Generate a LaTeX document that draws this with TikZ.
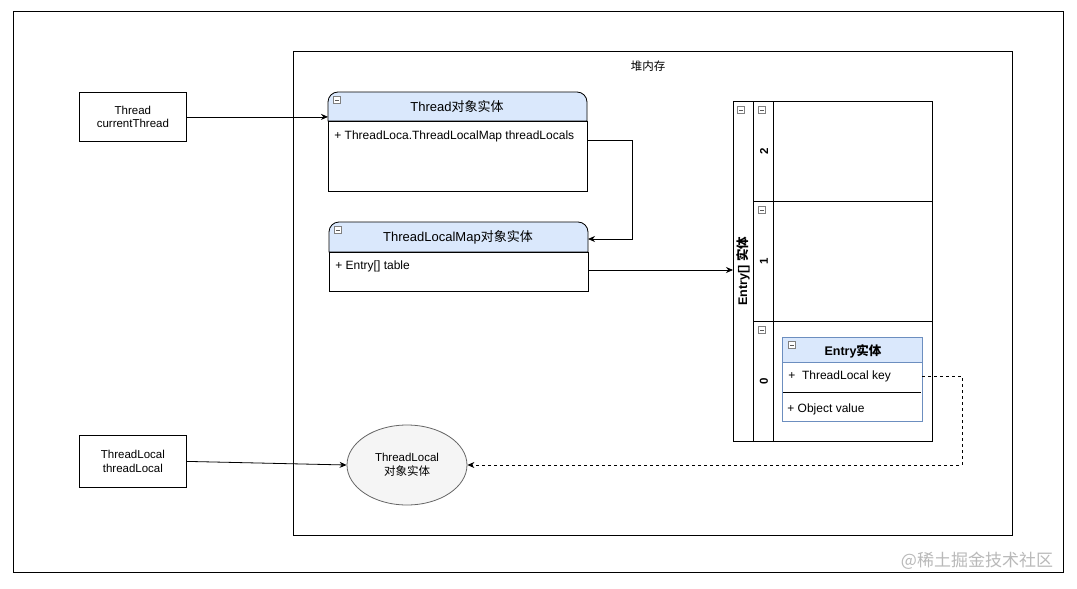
\documentclass[tikz,border=0pt]{standalone}
\usepackage{fontspec}
\setmainfont{Liberation Sans}
\newfontfamily\cjk{Noto Sans CJK SC}
\usetikzlibrary{arrows.meta,shapes.geometric}
\definecolor{hdr}{HTML}{DAE8FC}
\definecolor{hdrline}{HTML}{6C8EBF}
\definecolor{ellfill}{HTML}{F5F5F5}
\definecolor{ellline}{HTML}{666666}
\tikzset{
  box/.style={draw, anchor=north west, inner sep=0pt, align=center},
  anc/.style={anchor=north west, inner sep=0pt},
  field/.style={anchor=west, inner sep=0pt, font=\fontsize{12}{14}\selectfont},
  ttl/.style={font=\fontsize{13}{15}\selectfont},
  conn/.style={-{Stealth[length=7pt,width=6pt]}},
  minus/.pic={\draw[gray, fill=white, line width=0.6pt] (-3.5,-3.5) rectangle (3.5,3.5); \draw[gray!70!black, line width=0.6pt] (-2,0) -- (2,0);}
}
\begin{document}
\begin{tikzpicture}[x=1pt,y=-1pt, line width=0.8pt, font=\fontsize{11.5}{13.5}\selectfont]
\useasboundingbox (0,0) rectangle (1077,589);
\fill[white] (0,0) rectangle (1077,589);
% frames
\node[box, minimum width=1050pt, minimum height=561pt] (outer) at (13,11) {};
\node[box, minimum width=719pt, minimum height=484pt] (heap) at (293,51) {};
\node (heaplbl) at (648,66) {\cjk 堆内存};
% left boxes
\node[box, minimum width=107pt, minimum height=49pt] (thread) at (79,92) {Thread\\currentThread};
\node[box, minimum width=107pt, minimum height=52pt] (tlbox) at (79,435) {ThreadLocal\\threadLocal};
% Thread object
\draw[fill=hdr] (328,121) [rounded corners=10pt]-- (328,92) -- (587,92) [sharp corners]-- (587,121) -- cycle;
\draw (328,121) rectangle (587,191);
\node[anc, minimum width=259pt, minimum height=99pt] (thr) at (328,92) {};
\node[ttl] (thrT) at (457,107) {Thread{\cjk 对象实体}};
\node[field] (thrF) at (334,136) {+ ThreadLoca.ThreadLocalMap threadLocals};
\pic at (337,100) {minus};
% ThreadLocalMap object
\draw[fill=hdr] (329,252) [rounded corners=10pt]-- (329,222) -- (588,222) [sharp corners]-- (588,252) -- cycle;
\draw (329,252) rectangle (588,291);
\node[anc, minimum width=259pt, minimum height=69pt] (tlm) at (329,222) {};
\node[ttl] (tlmT) at (458,237) {ThreadLocalMap{\cjk 对象实体}};
\node[field] (tlmF) at (335,266) {+ Entry[] table};
\pic at (338,230) {minus};
% Entry[] array
\node[box, minimum width=199pt, minimum height=340pt] (arr) at (733,101) {};
\draw (753,101) -- (753,441);
\draw (773,101) -- (773,441);
\draw (753,201) -- (932,201);
\draw (753,321) -- (932,321);
\node[rotate=90, font=\fontsize{12.5}{14}\selectfont\bfseries] (arrlbl) at (743,271) {Entry[] {\cjk 实体}};
\node[rotate=90, font=\fontsize{11.5}{13}\selectfont\bfseries] (r2) at (764,151) {2};
\node[rotate=90, font=\fontsize{11.5}{13}\selectfont\bfseries] (r1) at (764,261) {1};
\node[rotate=90, font=\fontsize{11.5}{13}\selectfont\bfseries] (r0) at (764,381) {0};
\pic at (741,110) {minus};
\pic at (762,110) {minus};
\pic at (762,210) {minus};
\pic at (762,330) {minus};
% Entry object
\draw[hdrline, fill=hdr] (782,337) rectangle (922,362);
\draw[hdrline] (782,362) rectangle (922,421);
\draw (783,392) -- (921,392);
\node[anc, minimum width=140pt, minimum height=84pt] (ent) at (782,337) {};
\node[font=\fontsize{12.5}{14}\selectfont\bfseries] (entT) at (853,351) {Entry{\cjk 实体}};
\node[field] (entK) at (788,376) {+\ \ ThreadLocal key};
\node[field] (entV) at (787,409) {+ Object value};
\pic at (792,345) {minus};
% ThreadLocal object
\node[ellipse, draw=ellline, fill=ellfill, minimum width=120pt, minimum height=80pt, align=center, inner sep=0pt] (tl) at (407,465) {ThreadLocal\\{\cjk 对象实体}};
% connectors
\coordinate (c1) at (587,140);
\coordinate (c2) at (588,239);
\coordinate (c3) at (588,270);
\coordinate (c4) at (922,376);
\draw[conn] (thread.east) -- (thread.east -| thr.west);
\draw[conn] (c1) -- (632,140) -- (632,239) -- (c2);
\draw[conn] (c3) -- (c3 -| arr.west);
\draw[conn] (tlbox.east) -- (tl.west);
\draw[conn, dashed, line width=0.7pt] (c4) -- (962,376) -- (962,465) -- (tl.east);
% watermark
\node[text=gray!55, font=\cjk\fontsize{17}{19}\selectfont] (wm) at (977,561) {@稀土掘金技术社区};
\end{tikzpicture}
\end{document}
